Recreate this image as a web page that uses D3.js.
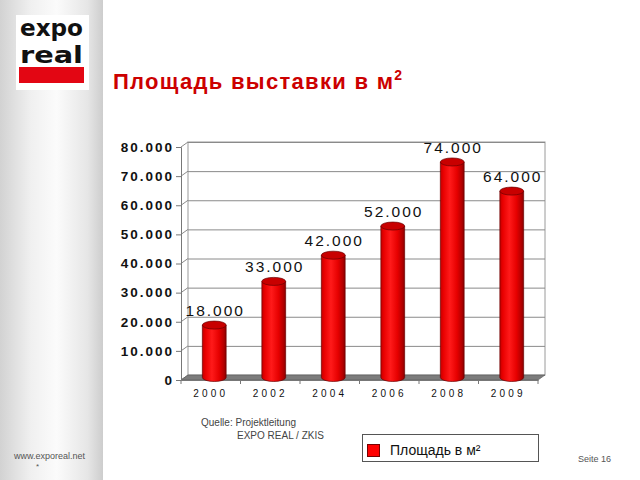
<!DOCTYPE html>
<html><head><meta charset="utf-8">
<script src="https://cdn.jsdelivr.net/npm/d3@7"></script>
<style>body{margin:0;background:#fff}svg{display:block}</style>
</head><body>
<script>
const categories = ["2000","2002","2004","2006","2008","2009"];
const values = [18000,33000,42000,52000,74000,64000];
const yTicks = [0,10000,20000,30000,40000,50000,60000,70000,80000];
const seriesName = "Площадь в м²";
const titleText = "Площадь выставки в м";

const W=640,H=480;
const svg=d3.select("body").append("svg").attr("width",W).attr("height",H);
const defs=svg.append("defs");

// sidebar gradient
const sg=defs.append("linearGradient").attr("id","side").attr("x1",0).attr("x2",1).attr("y1",0).attr("y2",0);
[[0,"#d2d2d2"],[0.3,"#f0f0f0"],[0.55,"#fbfbfb"],[0.85,"#e6e6e6"],[1,"#cdcdcd"]].forEach(s=>sg.append("stop").attr("offset",s[0]).attr("stop-color",s[1]));
svg.append("rect").attr("x",0).attr("y",0).attr("width",103).attr("height",H).attr("fill","url(#side)");

// logo
svg.append("rect").attr("x",16).attr("y",15).attr("width",73).attr("height",75).attr("fill","#fff");
svg.append("text").attr("x",20).attr("y",36).attr("font-family","DejaVu Sans").attr("font-weight","bold").attr("font-size",23)
  .attr("textLength",63).attr("lengthAdjust","spacingAndGlyphs").attr("fill","#111").text("expo");
svg.append("text").attr("x",20).attr("y",63).attr("font-family","DejaVu Sans").attr("font-weight","bold").attr("font-size",23)
  .attr("textLength",63).attr("lengthAdjust","spacingAndGlyphs").attr("fill","#111").text("real");
svg.append("rect").attr("x",19).attr("y",67).attr("width",65).attr("height",16).attr("fill","#e30613");

// title
const t=svg.append("text").attr("x",113).attr("y",89).attr("font-family","Liberation Sans, Arial, sans-serif")
  .attr("font-weight","bold").attr("font-size",22).attr("letter-spacing","1.3px").attr("fill","#cc0000");
t.append("tspan").text(titleText);
t.append("tspan").attr("dy",-9).attr("font-size",14).text("2");

// scales
const dx=7, dy=-5;
const x=d3.scaleBand().domain(categories).range([181,538]).paddingInner(0.6).paddingOuter(0.3);
const yF=d3.scaleLinear().domain([0,80000]).range([380,147]);
const yB=v=>yF(v)+dy;
const yM=v=>yF(v)+dy/2;
const step=x.step();
const x0=181;

// back wall
svg.append("rect").attr("x",x0+dx).attr("y",yB(80000)).attr("width",538-181).attr("height",yB(0)-yB(80000))
  .attr("fill","#fff").attr("stroke","#9a9a9a").attr("stroke-width",1);
const g=svg.append("g");
g.selectAll(".gl").data(yTicks.filter(d=>d>0)).join("line")
  .attr("x1",x0+dx).attr("x2",538+dx).attr("y1",d=>yB(d)+0.5).attr("y2",d=>yB(d)+0.5)
  .attr("stroke","#8a8a8a").attr("stroke-width",1);
// side wall diagonals
g.selectAll(".sw").data(yTicks).join("line")
  .attr("x1",x0).attr("y1",d=>yF(d)).attr("x2",x0+dx).attr("y2",d=>yB(d))
  .attr("stroke","#8a8a8a").attr("stroke-width",1);

// floor
svg.append("path").attr("d",`M${x0},${yF(0)} L${538},${yF(0)} L${538+dx},${yB(0)} L${x0+dx},${yB(0)} Z`)
  .attr("fill","#7c7c7c").attr("stroke","#555").attr("stroke-width",0.6);

// y axis
const fmt=d=>d3.format(",")(d).replace(/,/g,".");
const ya=svg.append("g").attr("transform",`translate(${x0},0)`)
  .call(d3.axisLeft(yF).tickValues(yTicks).tickFormat(fmt).tickSize(5).tickPadding(4));
ya.select(".domain").attr("stroke","#777");
ya.selectAll(".tick line").attr("stroke","#777");
ya.selectAll("text").attr("font-family","Liberation Sans, Arial, sans-serif").attr("font-size",13.5)
  .attr("font-weight","bold").attr("fill","#111").attr("letter-spacing","2px").attr("dx",2);

// x axis
const xa=svg.append("g").attr("transform",`translate(0,${yF(0)})`)
  .call(d3.axisBottom(x).tickSize(0).tickPadding(10));
xa.select(".domain").attr("stroke","#777");
xa.selectAll("text").attr("font-family","Liberation Sans, Arial, sans-serif").attr("font-size",10)
  .attr("fill","#111").attr("letter-spacing","3.2px").attr("dx",0);
const bounds=d3.range(categories.length+1).map(i=>x0+i*step);
svg.append("g").selectAll("line").data(bounds).join("line")
  .attr("x1",d=>d).attr("x2",d=>d).attr("y1",yF(0)).attr("y2",yF(0)+4).attr("stroke","#777");

// bars (cylinders)
const bg=defs.append("linearGradient").attr("id","cyl").attr("x1",0).attr("x2",1).attr("y1",0).attr("y2",0);
[[0,"#c00000"],[0.12,"#e80000"],[0.4,"#ff1a1a"],[0.7,"#e60000"],[0.9,"#b30000"],[1,"#8a0000"]].forEach(s=>bg.append("stop").attr("offset",s[0]).attr("stop-color",s[1]));
const bw=x.bandwidth(), ry=4;
const bars=svg.append("g").selectAll("g").data(categories.map((c,i)=>({c,v:values[i]}))).join("g");
bars.append("path").attr("d",d=>{
  const l=x(d.c)+dx/2, r=l+bw, top=yM(d.v), bot=yM(0);
  return `M${l},${top} L${l},${bot} A${bw/2},${ry} 0 0 0 ${r},${bot} L${r},${top} Z`;
}).attr("fill","url(#cyl)").attr("stroke","#6a0000").attr("stroke-width",0.7);
bars.append("ellipse").attr("cx",d=>x(d.c)+dx/2+bw/2).attr("cy",d=>yM(d.v)).attr("rx",bw/2).attr("ry",ry)
  .attr("fill","#c80000").attr("stroke","#6a0000").attr("stroke-width",0.7);
bars.append("text").attr("x",d=>x(d.c)+dx/2+bw/2+1).attr("y",d=>yM(d.v)-9).attr("text-anchor","middle")
  .attr("font-family","Liberation Sans, Arial, sans-serif").attr("font-size",15.5).attr("letter-spacing","2px")
  .attr("fill","#111").text(d=>fmt(d.v));

// source
const src=svg.append("g").attr("font-family","Liberation Sans, Arial, sans-serif").attr("font-size",10).attr("fill","#444");
src.append("text").attr("x",201).attr("y",426).text("Quelle: Projektleitung");
src.append("text").attr("x",237).attr("y",439).text("EXPO REAL / ZKIS");

// legend
svg.append("rect").attr("x",362.5).attr("y",434.5).attr("width",176).attr("height",27).attr("fill","#fff").attr("stroke","#555");
svg.append("rect").attr("x",367.5).attr("y",444.5).attr("width",12).attr("height",12).attr("fill","#ff0000").attr("stroke","#700");
svg.append("text").attr("x",390).attr("y",455).attr("font-family","Liberation Sans, Arial, sans-serif").attr("font-size",14)
  .attr("fill","#111").text(seriesName);

// footer
svg.append("text").attr("x",14).attr("y",459).attr("font-family","Liberation Sans, Arial, sans-serif").attr("font-size",9)
  .attr("fill","#555").text("www.exporeal.net");
svg.append("text").attr("x",36).attr("y",469).attr("font-family","Liberation Sans, Arial, sans-serif").attr("font-size",8)
  .attr("fill","#555").text("*");
svg.append("text").attr("x",578).attr("y",462).attr("font-family","Liberation Sans, Arial, sans-serif").attr("font-size",9)
  .attr("fill","#555").text("Seite 16");
</script>
</body></html>
